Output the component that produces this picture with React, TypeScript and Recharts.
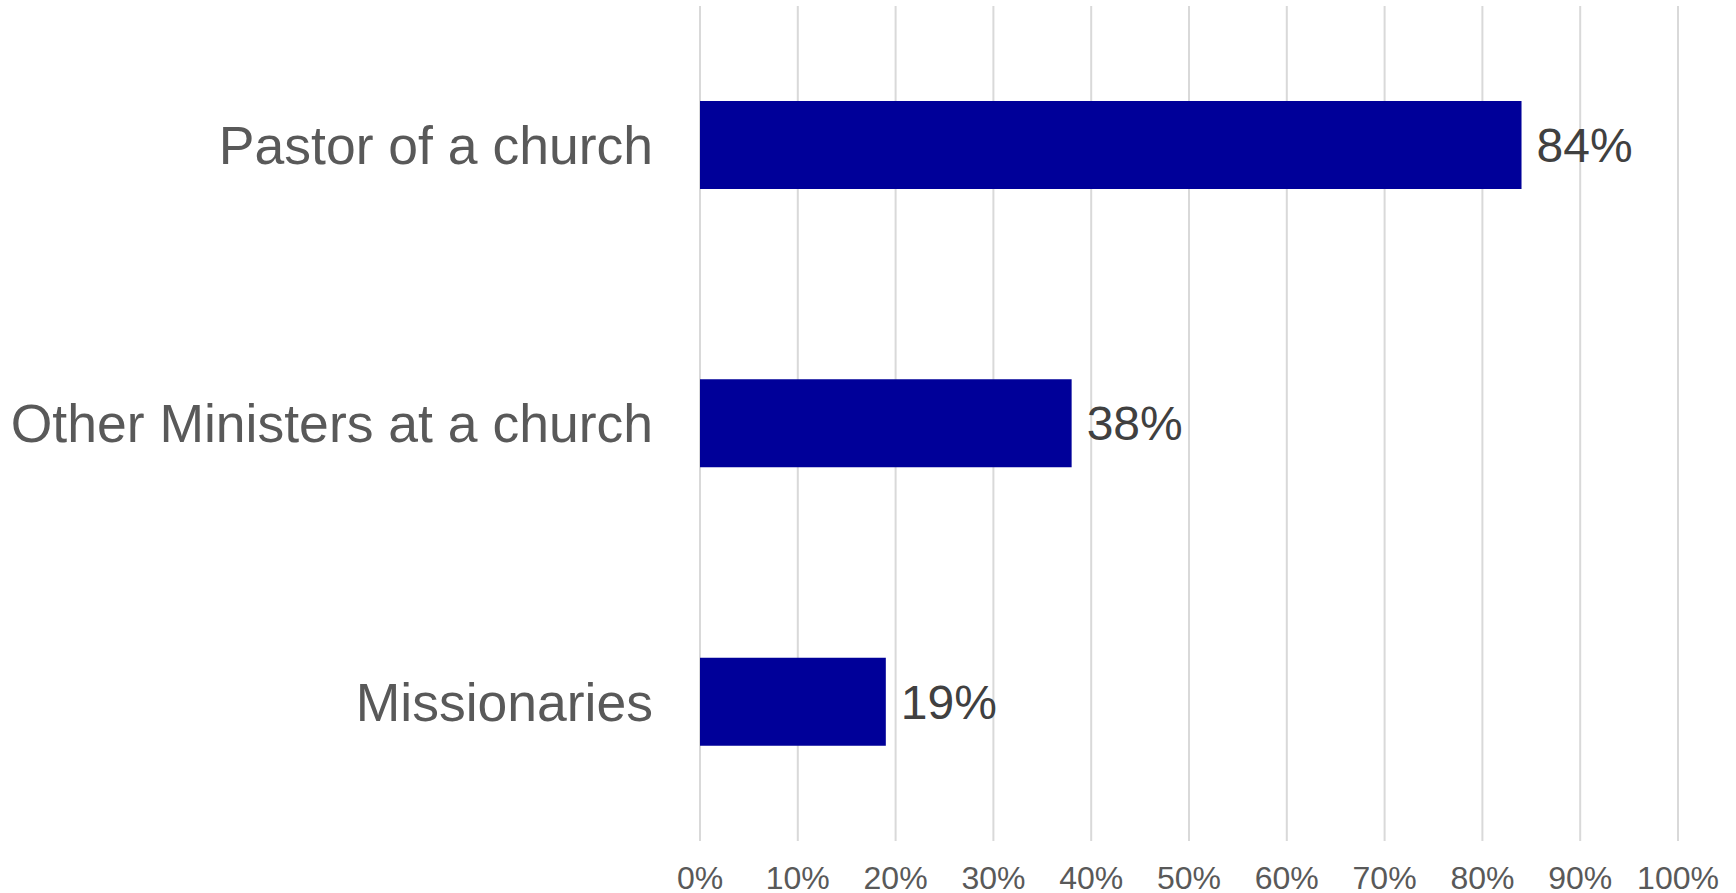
import { Bar, BarChart, CartesianGrid, LabelList, XAxis, YAxis } from "recharts";

const categories = ["Pastor of a church", "Other Ministers at a church", "Missionaries"];
const shares = [0.84, 0.38, 0.19];
const xTicks = [0, 0.1, 0.2, 0.3, 0.4, 0.5, 0.6, 0.7, 0.8, 0.9, 1];

const data = categories.map((name, i) => ({ name, share: shares[i] }));

const pct = (v: number) => `${Math.round(v * 100)}%`;
const font = "'Liberation Sans', Arial, sans-serif";

export default function App() {
  return (
    <div style={{ position: "absolute", left: 0, top: 0, background: "#fff" }}>
      <BarChart
        width={1736}
        height={893}
        data={data}
        layout="vertical"
        margin={{ top: 6, right: 58, bottom: 0, left: 0 }}
        barSize={88}
      >
        <CartesianGrid horizontal={false} stroke="#d9d9d9" strokeWidth={2} />
        <XAxis
          type="number"
          domain={[0, 1]}
          ticks={xTicks}
          tickFormatter={pct}
          axisLine={false}
          tickLine={false}
          tickSize={0}
          tickMargin={25}
          height={52}
          interval={0}
          tick={{ fill: "#595959", fontSize: 32, fontFamily: font }}
        />
        <YAxis
          type="category"
          dataKey="name"
          width={700}
          axisLine={false}
          tickLine={false}
          tickSize={0}
          tickMargin={47}
          tick={{ fill: "#595959", fontSize: 53.5, fontFamily: font }}
        />
        <Bar dataKey="share" fill="#000099" isAnimationActive={false}>
          <LabelList
            dataKey="share"
            position="right"
            offset={15}
            formatter={(v: number) => pct(v)}
            fill="#404040"
            fontSize={48}
            fontFamily={font}
          />
        </Bar>
      </BarChart>
    </div>
  );
}
